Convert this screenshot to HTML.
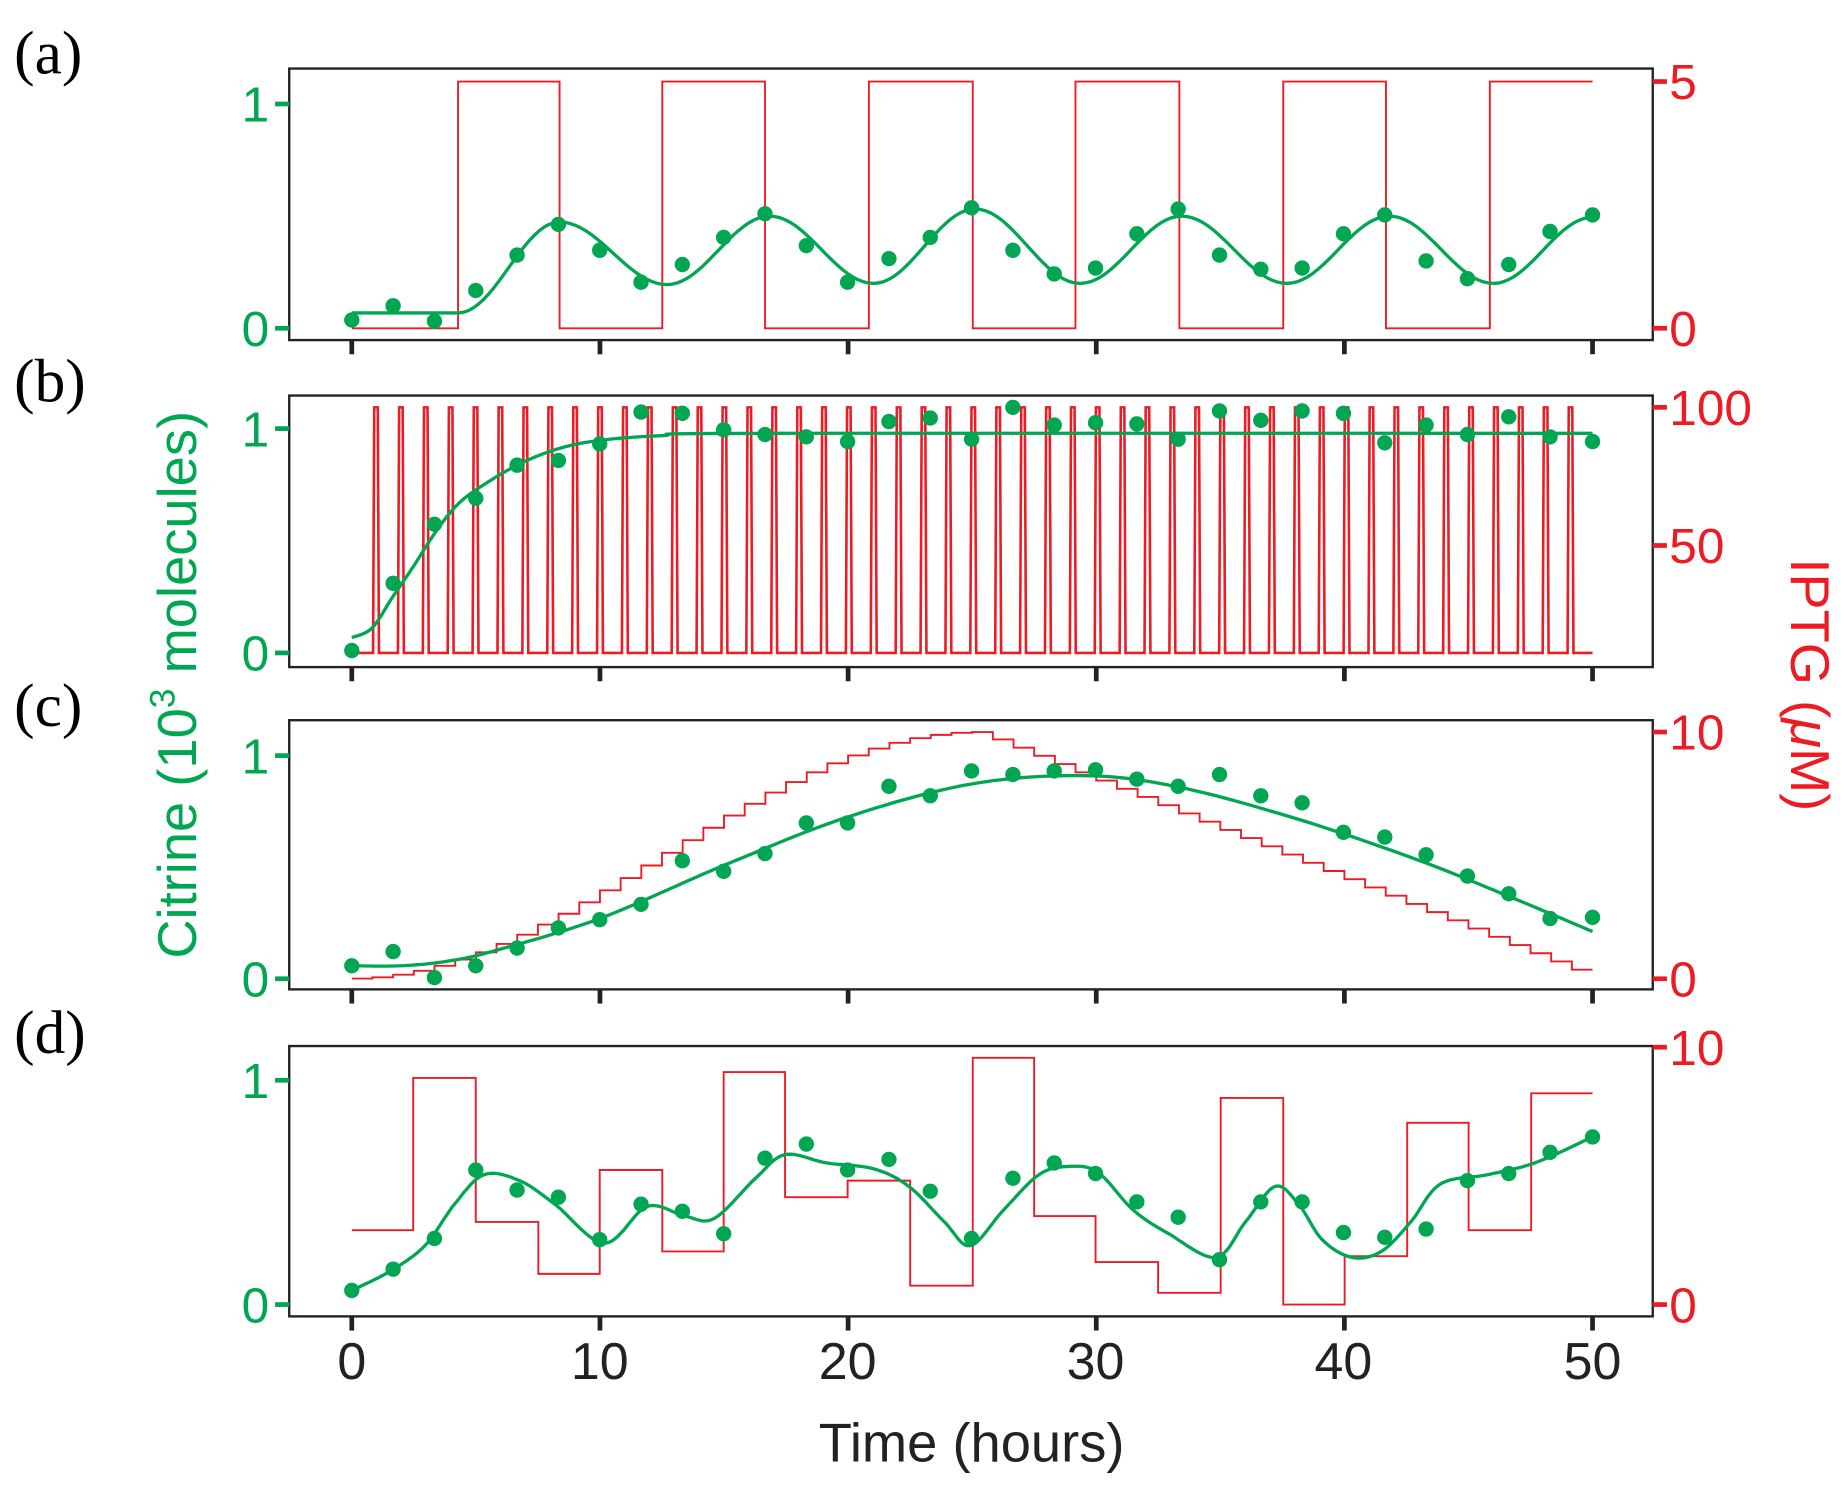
<!DOCTYPE html>
<html><head><meta charset="utf-8"><style>
html,body{margin:0;padding:0;background:#fff;}
svg{display:block;}
text{font-family:"Liberation Sans",sans-serif;}
.g{fill:#00a651;}
.r{fill:#ed1c24;}
.pl{font-family:"Liberation Serif",serif;font-size:52px;fill:#000;}
</style></head><body>
<svg id="s" width="1844" height="1490" viewBox="0 0 1562 1262" xmlns="http://www.w3.org/2000/svg">
<g fill="none" stroke="#222" stroke-width="2">
<rect x="245" y="58" width="1155" height="230"/>
<rect x="245" y="335" width="1155" height="230"/>
<rect x="245" y="610" width="1155" height="228"/>
<rect x="245" y="886" width="1155" height="229"/>
</g>
<g id="ticks" stroke="#222" stroke-width="4"></g>
<g stroke="#00a651" stroke-width="4">
<line x1="233" x2="245" y1="88" y2="88"/><line x1="233" x2="245" y1="278" y2="278"/>
<line x1="233" x2="245" y1="363" y2="363"/><line x1="233" x2="245" y1="553" y2="553"/>
<line x1="233" x2="245" y1="640" y2="640"/><line x1="233" x2="245" y1="829" y2="829"/>
<line x1="233" x2="245" y1="915" y2="915"/><line x1="233" x2="245" y1="1105" y2="1105"/>
</g>
<g stroke="#ed1c24" stroke-width="4">
<line x1="1400" x2="1412" y1="69" y2="69"/><line x1="1400" x2="1412" y1="278" y2="278"/>
<line x1="1400" x2="1412" y1="345" y2="345"/><line x1="1400" x2="1412" y1="462" y2="462"/>
<line x1="1400" x2="1412" y1="620" y2="620"/><line x1="1400" x2="1412" y1="829" y2="829"/>
<line x1="1400" x2="1412" y1="887" y2="887"/><line x1="1400" x2="1412" y1="1105" y2="1105"/>
</g>
<g font-size="42" text-anchor="end" class="g">
<text x="228" y="103">1</text><text x="228" y="293">0</text>
<text x="228" y="378">1</text><text x="228" y="568">0</text>
<text x="228" y="655">1</text><text x="228" y="844">0</text>
<text x="228" y="930">1</text><text x="228" y="1120">0</text>
</g>
<g font-size="42" class="r">
<text x="1414" y="84">5</text><text x="1414" y="293">0</text>
<text x="1414" y="360">100</text><text x="1414" y="477">50</text>
<text x="1414" y="635">10</text><text x="1414" y="844">0</text>
<text x="1414" y="902">10</text><text x="1414" y="1120">0</text>
</g>
<g font-size="44" text-anchor="middle" fill="#222">
<text x="298" y="1168">0</text><text x="508" y="1168">10</text><text x="718" y="1168">20</text>
<text x="928" y="1168">30</text><text x="1138" y="1168">40</text><text x="1349" y="1168">50</text>
<text x="823" y="1238" font-size="46">Time (hours)</text>
</g>
<text class="pl" x="12" y="62">(a)</text>
<text class="pl" x="12" y="340">(b)</text>
<text class="pl" x="12" y="615">(c)</text>
<text class="pl" x="12" y="892">(d)</text>
<text class="g" font-size="46" text-anchor="middle" transform="translate(166,580) rotate(-90)">Citrine (10<tspan font-size="30" dy="-18">3</tspan><tspan dy="18"> molecules)</tspan></text>
<text class="r" font-size="46" text-anchor="middle" transform="translate(1517,580) rotate(90)">IPTG (<tspan font-style="italic">μ</tspan>M)</text>
<g id="data"></g>
</svg>
<script>
var NS="http://www.w3.org/2000/svg",D=document.getElementById("data"),T=document.getElementById("ticks");
function X(t){return 298+t*21.02;}
function el(n,a,p){var e=document.createElementNS(NS,n);for(var k in a)e.setAttribute(k,a[k]);(p||D).appendChild(e);return e;}
[0,10,20,30,40,50].forEach(function(t){[288,565,838,1115].forEach(function(y){el("line",{x1:X(t),x2:X(t),y1:y,y2:y+12},T);});});
function red(d,w){el("path",{d:d,fill:"none",stroke:"#ed1c24","stroke-width":w||1.6});}
function green(pts){el("polyline",{points:pts.map(function(p){return p[0].toFixed(1)+","+p[1].toFixed(1)}).join(" "),fill:"none",stroke:"#00a651","stroke-width":2.8,"stroke-linejoin":"round"});}
function dots(pts){pts.forEach(function(p){el("circle",{cx:p[0],cy:p[1],r:6.5,fill:"#00a651"});});}
function cr(k){var out=[];for(var i=0;i<k.length-1;i++){var p0=k[Math.max(i-1,0)],p1=k[i],p2=k[i+1],p3=k[Math.min(i+2,k.length-1)];for(var j=0;j<16;j++){var t=j/16,t2=t*t,t3=t2*t;var f=function(a,b,c,d){return 0.5*(2*b+(-a+c)*t+(2*a-5*b+4*c-d)*t2+(-a+3*b-3*c+d)*t3);};out.push([f(p0[0],p1[0],p2[0],p3[0]),f(p0[1],p1[1],p2[1],p3[1])]);}}out.push(k[k.length-1]);return out;}
function smooth(keys){var out=[];for(var i=0;i<keys.length-1;i++){var a=keys[i],b=keys[i+1];for(var j=0;j<20;j++){var u=j/20,s=(1-Math.cos(Math.PI*u))/2;out.push([a[0]+(b[0]-a[0])*u,a[1]+(b[1]-a[1])*s]);}}out.push(keys[keys.length-1]);return out;}
// (a)
var xs=[298,388,474,561,648,736,824,911,999,1087,1174,1262,1349],d="M298,278",lo=true;
for(var i=1;i<xs.length;i++){var y=lo?278:69;d+=" L"+xs[i]+","+y;if(i<xs.length-1){lo=!lo;d+=" L"+xs[i]+","+(lo?278:69);}}
red(d);
green([[298,265]].concat(smooth([[388,265],[474,188],[565,241],[652,183],[740,240],[826,177],[915,240],[1001,183],[1090,240],[1177,183],[1265,240],[1349,184]])));
dots([[298,271],[333,259],[368,272],[403,246],[438,216],[473,190],[508,212],[543,239],[578,224],[613,201],[648,181],[683,208],[718,239],[753,219],[788,201],[823,176],[858,212],[893,232],[928,227],[963,198],[998,177],[1033,216],[1068,228],[1103,227],[1138,198],[1173,182],[1208,221],[1243,236],[1278,224],[1313,196],[1349,182]]);
// (b)
d="M298,553";for(var i=0;i<49;i++){var x=316+i*21.08;d+=" L"+x+",553 L"+(x+1)+",345 L"+(x+4)+",345 L"+(x+5)+",553";}d+=" L1349,553";
red(d,2.2);
green(cr([[298,540],[315,532],[333,505],[350,480],[368,452],[385,430],[403,415],[438,394],[473,380],[508,373],[560,369],[650,367],[1349,367]]));
dots([[298,551],[333,494],[368,444],[403,422],[438,394],[473,390],[508,376],[543,349],[578,350],[613,364],[648,368],[683,370],[718,374],[753,357],[788,354],[823,372],[858,345],[893,360],[928,358],[963,359],[998,372],[1033,348],[1068,356],[1103,348],[1138,350],[1173,375],[1208,360],[1243,368],[1278,353],[1313,370],[1349,374]]);
// (c)
d="";var step=50/60;for(var i=0;i<60;i++){var t=i*step,tm=t+step/2,v;if(tm<=25.5)v=10*Math.pow(Math.sin(Math.PI*tm/51),2);else v=10-(tm-25.5)*0.4;var y=829-20.9*v,x0=X(t),x1=X(t+step);d+=(i==0?"M":" L")+x0+","+y+" L"+x1+","+y;}
red(d);
green(cr([[298,818],[340,818],[380,814],[420,805],[508,778],[613,733],[718,692],[823,664],[920,657],[1000,667],[1100,694],[1200,728],[1280,760],[1349,789]]));
dots([[298,818],[333,806],[368,828],[403,818],[438,803],[473,786],[508,779],[543,766],[578,729],[613,738],[648,723],[683,697],[718,697],[753,666],[788,674],[823,653],[858,656],[893,653],[928,652],[963,660],[998,666],[1033,656],[1068,674],[1103,680],[1138,705],[1173,709],[1208,724],[1243,742],[1278,757],[1313,778],[1349,777]]);
// (d)
var st=[[298,1042],[350,913],[403,1035],[456,1079],[508,991],[561,1060],[613,908],[665,1014],[718,1000],[771,1089],[824,896],[876,1030],[928,1069],[981,1095],[1034,930],[1087,1105],[1139,1064],[1192,951],[1244,1042],[1297,926],[1349,926]];
d="M298,1042";for(var i=0;i<st.length-1;i++){d+=" L"+st[i][0]+","+st[i][1]+" L"+st[i+1][0]+","+st[i][1];}
red(d);
green(cr([[298,1093],[330,1077],[360,1055],[385,1020],[410,995],[440,1000],[470,1020],[512,1053],[548,1022],[580,1030],[605,1032],[640,998],[665,978],[700,985],[740,990],[770,1005],[800,1035],[822,1055],[850,1025],[880,995],[905,988],[930,993],[960,1025],[990,1045],[1030,1065],[1055,1035],[1080,1005],[1100,1020],[1120,1050],[1145,1065],[1170,1060],[1195,1035],[1220,1003],[1260,995],[1300,985],[1349,963]]));
dots([[298,1093],[333,1075],[368,1049],[403,991],[438,1008],[473,1014],[508,1050],[543,1020],[578,1026],[613,1045],[648,981],[683,969],[718,991],[753,982],[788,1009],[823,1049],[858,998],[893,985],[928,994],[963,1018],[998,1031],[1033,1067],[1068,1018],[1103,1018],[1138,1044],[1173,1048],[1208,1041],[1243,1000],[1278,994],[1313,976],[1349,963]]);
</script>
</body></html>
